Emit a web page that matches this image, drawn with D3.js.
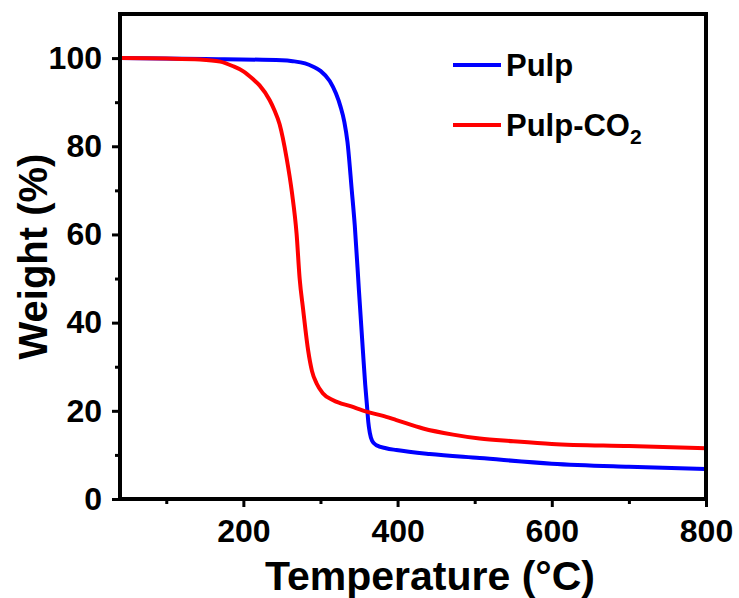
<!DOCTYPE html>
<html><head><meta charset="utf-8">
<script src="https://cdn.jsdelivr.net/npm/d3@7"></script>
<style>body{margin:0;background:#fff}svg{display:block}text{font-family:"Liberation Sans",Arial,sans-serif;font-weight:bold}</style>
</head><body><div id="chart"></div>
<script>
const pulpT = [40,150,250,264,280,290,300,312,320,326,331,335,340.6,344.5,350,355,358,360.4,362,364,367,372.6,385,398.5,441.7,506.5,600,700,800];
const pulpW = [100,99.8,99.5,99.3,98.8,98.1,97.1,94.8,92,89,85.5,81,70,62,47,33.7,26,21,17.5,15,13.2,12.2,11.5,11.1,10.2,9.3,8,7.3,6.8];
const co2T = [40,100,143.7,170,186,200,212,221,234,240,247,256,263,269,273,277.5,284,289,295,303,316.5,340,359.7,380,398.5,433,472,506.5,550,600,700,800];
const co2W = [100,99.9,99.7,99.2,98.2,97,95.3,93.8,90.5,88.3,85,77.4,69.5,60.2,50,43,33.7,29,26.2,24,22.4,21,19.8,18.9,17.9,16,14.6,13.7,13.1,12.5,12,11.5];
const xMajor = [200,400,600,800];
const xMinor = [100,300,500,700];
const yMajor = [0,20,40,60,80,100];
const yMinor = [10,30,50,70,90];
const seriesNames = ["Pulp","Pulp-CO2"];
const seriesColors = ["#0000ff","#ff0000"];

const W=739,H=598,m={l:120,r:33,t:14,b:99};
const svg=d3.select("#chart").append("svg").attr("width",W).attr("height",H);
const x=d3.scaleLinear().domain([40,800]).range([m.l,W-m.r]);
const y=d3.scaleLinear().domain([0,110]).range([H-m.b,m.t]);

const line=d3.line().x(d=>x(d[0])).y(d=>y(d[1])).curve(d3.curveMonotoneX);
const series=[d3.zip(pulpT,pulpW), d3.zip(co2T,co2W)];
series.forEach((s,i)=>{
  svg.append("path").datum(s).attr("d",line).attr("fill","none")
    .attr("stroke",seriesColors[i]).attr("stroke-width",4).attr("stroke-linejoin","round");
});

// axes
const gx=svg.append("g").attr("transform",`translate(0,${H-m.b})`)
  .call(d3.axisBottom(x).tickValues(xMajor).tickSize(8).tickSizeOuter(0).tickPadding(12));
const gxm=svg.append("g").attr("transform",`translate(0,${H-m.b})`)
  .call(d3.axisBottom(x).tickValues(xMinor).tickSize(5).tickSizeOuter(0).tickFormat(""));
const gy=svg.append("g").attr("transform",`translate(${m.l},0)`)
  .call(d3.axisLeft(y).tickValues(yMajor).tickSize(8).tickSizeOuter(0).tickPadding(10));
const gym=svg.append("g").attr("transform",`translate(${m.l},0)`)
  .call(d3.axisLeft(y).tickValues(yMinor).tickSize(5).tickSizeOuter(0).tickFormat(""));
[gx,gxm,gy,gym].forEach(g=>{
  g.select(".domain").remove();
  g.selectAll(".tick line").attr("stroke","#000").attr("stroke-width",3);
  g.selectAll(".tick text").attr("fill","#000").style("font-size","32px").style("font-family","'Liberation Sans',Arial,sans-serif").style("font-weight","bold");
});

svg.append("rect").attr("x",m.l).attr("y",m.t).attr("width",W-m.r-m.l).attr("height",H-m.b-m.t)
  .attr("fill","none").attr("stroke","#000").attr("stroke-width",4);

// titles
svg.append("text").attr("x",430).attr("y",590).attr("text-anchor","middle")
  .style("font-size","41px").text("Temperature (°C)");
svg.append("text").attr("transform",`translate(47,${(m.t+H-m.b)/2}) rotate(-90)`).attr("text-anchor","middle")
  .style("font-size","40px").text("Weight (%)");

// legend
const lg=svg.append("g");
const ly=[65,125];
seriesNames.forEach((n,i)=>{
  lg.append("line").attr("x1",453).attr("x2",501).attr("y1",ly[i]).attr("y2",ly[i])
    .attr("stroke",seriesColors[i]).attr("stroke-width",4);
  const t=lg.append("text").attr("x",506).attr("y",ly[i]+11).style("font-size","31px");
  if(n==="Pulp-CO2"){
    t.append("tspan").text("Pulp-CO");
    t.append("tspan").attr("dy",8).style("font-size","21px").text("2");
  } else t.text(n);
});
</script></body></html>
